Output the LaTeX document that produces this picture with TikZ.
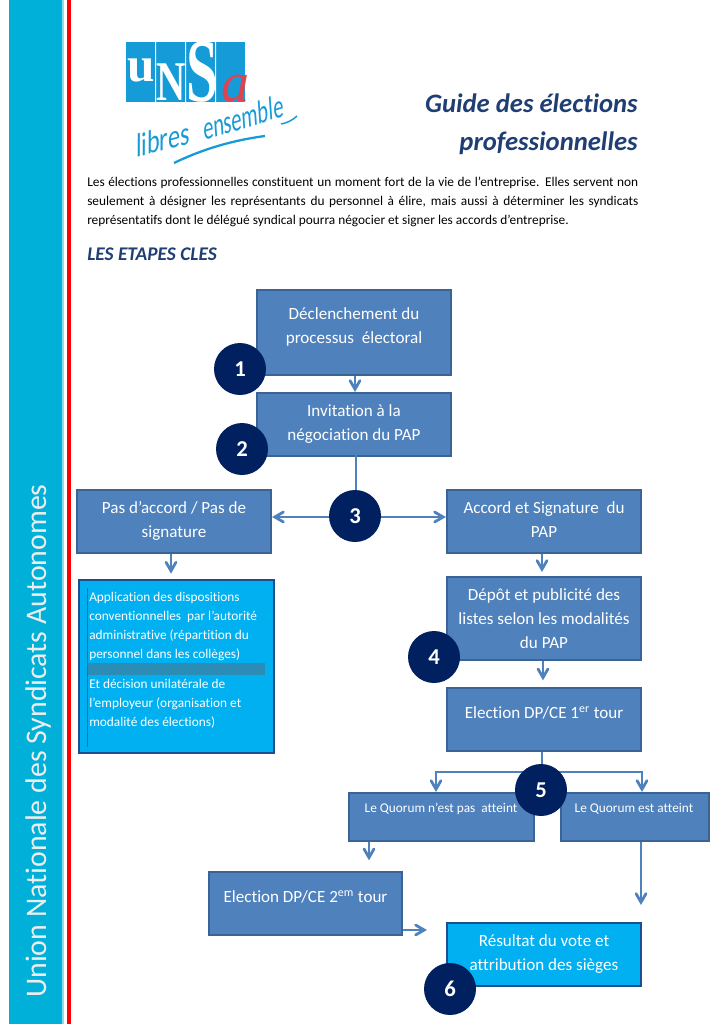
\documentclass[tikz,border=0pt]{standalone}
\usepackage{fontspec}
\setmainfont{Carlito}[Ligatures=NoCommon]
\newfontfamily\handfont{Carlito}[Ligatures=NoCommon,FakeSlant=0.35]
\newfontfamily\logofont{Liberation Serif}
\usepackage{tikz}
\usetikzlibrary{arrows,positioning,calc}
\definecolor{boxblue}{HTML}{4F81BD}
\definecolor{boxline}{HTML}{3A6496}
\definecolor{skybox}{HTML}{00B0F0}
\definecolor{skyline}{HTML}{1F4E8C}
\definecolor{navy}{HTML}{002060}
\definecolor{barcyan}{HTML}{00B0D8}
\definecolor{titleblue}{HTML}{1F3E74}
\definecolor{logoblue}{HTML}{159BD7}
\definecolor{logored}{HTML}{DE4350}
\definecolor{bandgrey}{HTML}{2B8DB5}
\tikzset{
  stepbox/.style={rectangle,draw=boxline,line width=1.5pt,fill=boxblue,text=white,align=center,anchor=north west,inner sep=0pt,font=\fontsize{12.8}{18}\selectfont},
  skystep/.style={stepbox,fill=skybox,draw=skyline},
  smalltxt/.style={text=white,inner sep=0pt,font=\fontsize{10}{14.2}\selectfont},
  badge/.style={circle,fill=navy,text=white,minimum size=39pt,inner sep=0pt,font=\fontsize{17}{17}\selectfont\bfseries},
  flow/.style={draw=boxblue,line width=2.1pt,-angle 60},
  plain/.style={draw=boxblue,line width=2.1pt}
}
\newcommand{\stepat}[6]{\node[#1,minimum width=#4*0.75pt,minimum height=#5*0.75pt] (#2) at (#3) {#6};}
\newcommand{\lift}[1]{\rule[-#1]{0pt}{#1}}
\begin{document}
\begin{tikzpicture}[x=0.75pt,y=-0.75pt]
   \useasboundingbox (0,0) rectangle (725,1024);
   % side band
   \fill[barcyan] (9,0) rectangle (62,1024);
   \fill[barcyan!45] (62,0) rectangle (63.5,1024);
   \fill[red] (67,0) rectangle (71,1024);
   \node[rotate=90,anchor=west,inner sep=0pt,text=white!93!black,font=\fontsize{22.4}{24}\selectfont] (band) at (39,998) {Union Nationale des Syndicats Autonomes};
   % logo
   \fill[logoblue] (126,42) rectangle (245,102);
   \fill[white] (155,42) rectangle (156,102) (185,42) rectangle (186,102) (215,42) rectangle (216,102);
   \node[inner sep=0pt,text=white,font=\logofont\bfseries\fontsize{37}{37}\selectfont] (logou) at (141,70) {u};
   \node[inner sep=0pt,text=white,font=\logofont\bfseries\fontsize{29}{29}\selectfont] (logon) at (171,82) {\scalebox{1.05}[1.45]{N}};
   \node[inner sep=0pt,text=white,font=\logofont\bfseries\fontsize{33}{33}\selectfont] (logos) at (202,72) {\scalebox{1.3}[2.05]{S}};
   \node[inner sep=0pt,text=logored,font=\logofont\itshape\fontsize{42}{42}\selectfont] (logoa) at (235,89) {a};
   \node[rotate=15,inner sep=0pt,text=logoblue,font=\handfont\fontsize{22}{22}\selectfont] (logolib) at (160,140) {\scalebox{.85}[1.1]{libres}};
   \node[rotate=17,inner sep=0pt,text=logoblue,font=\handfont\fontsize{22}{22}\selectfont] (logoens) at (241,118) {\scalebox{.72}[1.1]{ensemble}};
   \draw[logoblue,line width=1.1pt] (281,124) .. controls (287,123) and (293,120) .. (297,116);
   \draw[logoblue,line width=1.7pt] (174,163) .. controls (205,148) and (235,140) .. (265,136);
   % title
   \node[anchor=north east,inner sep=0pt,text=titleblue,align=right,font=\fontsize{20}{28}\selectfont\bfseries\itshape] (title) at (638,94) {Guide des élections\\professionnelles};
   \node[anchor=north west,inner sep=0pt,text width=551*0.75pt,align=justify,font=\fontsize{10}{14.2}\selectfont] (intro) at (87,177) {Les élections professionnelles constituent un moment fort de la vie de l’entreprise. Elles servent non seulement à désigner les représentants du personnel à élire, mais aussi à déterminer les syndicats représentatifs dont le délégué syndical pourra négocier et signer les accords d’entreprise.};
   \node[anchor=north west,inner sep=0pt,text=titleblue,font=\fontsize{14.5}{15}\selectfont\bfseries\itshape] (etapes) at (87,248) {LES ETAPES CLES};
   % boxes
   \stepat{stepbox}{trigger}{256,289}{194}{85}{Déclenchement du\\processus\ \ électoral\lift{11pt}}
   \stepat{stepbox}{invite}{256,392}{194}{63}{Invitation à la\\négociation du PAP\lift{3pt}}
   \stepat{stepbox}{refus}{76,489}{194}{63}{Pas d’accord / Pas de\\signature\lift{3pt}}
   \stepat{stepbox}{accord}{446,489}{194}{63}{Accord et Signature\ \ du\\PAP\lift{3pt}}
   \stepat{skystep}{appli}{78,579}{195}{173}{}
   \fill[bandgrey] (88,663) rectangle (265,675);
   \draw[boxline,line width=0.4pt] (87.5,588) -- (87.5,747);
   \node[smalltxt,anchor=north west,align=left] (applitxt) at (89,592) {Application des dispositions\\conventionnelles\ \ par l’autorité\\administrative (répartition du\\personnel dans les collèges)};
   \node[smalltxt,anchor=north west,align=left] (decitxt) at (89,679) {Et décision unilatérale de\\l’employeur (organisation et\\modalité des élections)};
   \stepat{stepbox}{depot}{446,576}{194}{83}{Dépôt et publicité des\\listes selon les modalités\\du PAP}
   \stepat{stepbox}{tour1}{446,687}{194}{63}{Election DP/CE 1\textsuperscript{er} tour\lift{11pt}}
   \stepat{stepbox}{nonq}{348,792}{185}{48}{}
   \stepat{stepbox}{yesq}{560,792}{148}{48}{}
   \node[smalltxt] (nonqtxt) at (441,809) {Le Quorum n’est pas\ \ atteint};
   \node[smalltxt] (yesqtxt) at (634,809) {Le Quorum est atteint};
   \stepat{stepbox}{tour2}{208,871}{193}{63}{Election DP/CE 2\textsuperscript{em} tour\lift{11pt}}
   \stepat{skystep}{result}{446,922}{194}{63}{Résultat du vote et\\attribution des sièges\lift{3pt}}
   % connectors
   \coordinate (split3) at (356,517);
   \coordinate (split5) at (542,772);
   \coordinate (freeA) at (641,905);
   \coordinate (freeB) at (427,930);
   \draw[flow] (trigger.south -| 355,0) -- (invite.north -| 355,0);
   \draw[plain] ([yshift=2pt]invite.south -| 356,0) -- (split3);
   \draw[flow] (split3) -- (refus.east |- split3);
   \draw[flow] (split3) -- (accord.west |- split3);
   \draw[flow,shorten >=4pt] (refus.south -| 171,0) -- (appli.north -| 171,0);
   \draw[flow,shorten >=3pt] (accord.south -| 542,0) -- (depot.north -| 542,0);
   \draw[flow,shorten >=5pt] (depot.south -| 543,0) -- (tour1.north -| 543,0);
   \draw[plain] (tour1.south -| 542,0) -- (split5);
   \draw[flow] (split5) -| (nonq.north -| 436,0);
   \draw[flow] (split5) -| (yesq.north -| 642,0);
   \draw[flow,shorten >=8pt] (nonq.south -| 369,0) -- (tour2.north -| 369,0);
   \draw[flow] (yesq.south -| freeA) -- (freeA);
   \draw[flow] (tour2.east |- freeB) -- (freeB);
   % badges
   \node[badge] (n1) at (240,369) {1};
   \node[badge] (n2) at (242,449) {2};
   \node[badge] (n3) at (355,516) {3};
   \node[badge] (n4) at (434,657) {4};
   \node[badge] (n5) at (541,790) {5};
   \node[badge] (n6) at (450,989) {6};
\end{tikzpicture}
\end{document}
